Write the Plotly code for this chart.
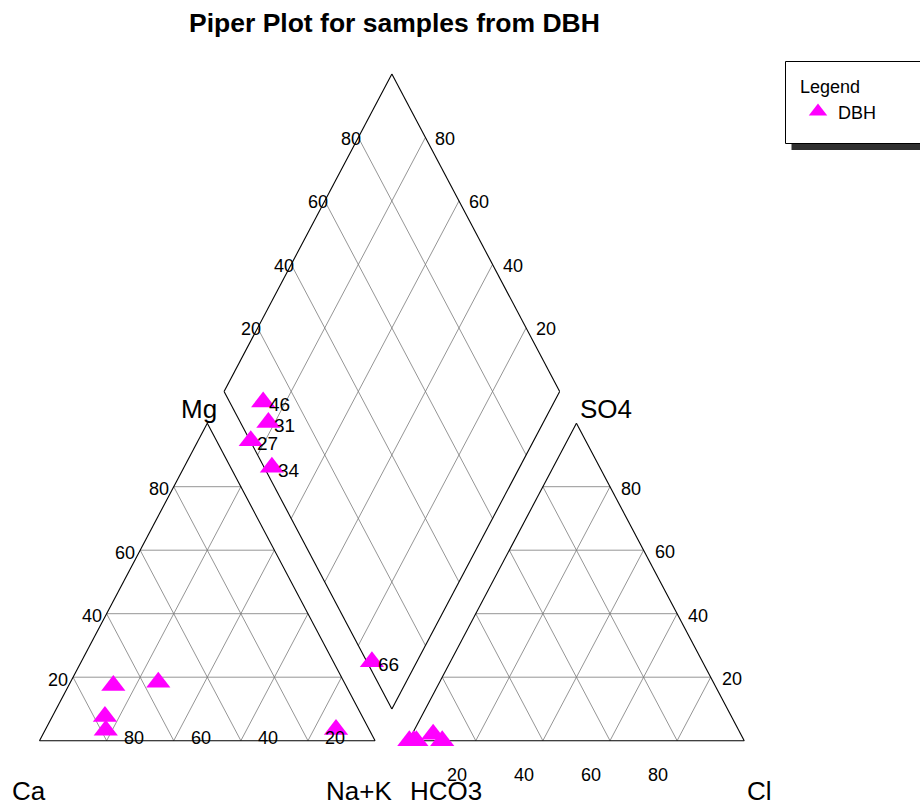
import plotly.graph_objects as go

# ---------------- data (percent of meq) ----------------
samples = ["46", "31", "27", "34", "66"]
ca = [69.3, 78.6, 76.7, 55.4, 9.9]
mg = [17.4, 3.3, 7.6, 18.4, 3.5]
nak = [13.3, 18.1, 15.7, 26.2, 86.6]
hco3 = [90.0, 91.7, 99.8, 97.7, 98.5]
so4 = [0.0, 2.0, 0.0, 0.0, 0.0]
cl = [10.0, 6.3, 0.2, 2.3, 1.5]
grid_ticks = [20, 40, 60, 80]
group_name = "DBH"
title_text = "Piper Plot for samples from DBH"

FONT = "Liberation Sans, Arial, Helvetica, sans-serif"
W, H = 920, 809
GAP = 0.1          # gap between triangles (fraction of side)
XR = [-0.1177, 2.6237]
YR = [-0.2151, 2.3329]


# ---------------- geometry helpers ----------------
def cation_xy(c, m, n):
    t = c + m + n
    m, n = m / t, n / t
    return n + 0.5 * m, m


def anion_xy(b, s, c):
    t = b + s + c
    s, c = s / t, c / t
    return 1 + GAP + c + 0.5 * s, s


def diamond_xy(n, b):
    # n = Na+K fraction, b = HCO3 fraction
    return 1 + GAP / 2 + 0.5 * (n - b), GAP + 2 - n - b


def seg_trace(segs, color, width):
    xs, ys = [], []
    for (x0, y0), (x1, y1) in segs:
        xs += [x0, x1, None]
        ys += [y0, y1, None]
    return go.Scatter(x=xs, y=ys, mode="lines", hoverinfo="skip", showlegend=False,
                      line=dict(color=color, width=width))


# grid lines
grid = []
for k in [t / 100 for t in grid_ticks]:
    for off in (0.0, 1 + GAP):
        grid.append(((off + 0.5 * k, k), (off + 1 - 0.5 * k, k)))
        grid.append(((off + k, 0), (off + k + 0.5 * (1 - k), 1 - k)))
        grid.append(((off + 1 - k, 0), (off + 0.5 * (1 - k), 1 - k)))
    grid.append((diamond_xy(k, 1), diamond_xy(k, 0)))
    grid.append((diamond_xy(0, k), diamond_xy(1, k)))

outline = []
for off in (0.0, 1 + GAP):
    outline += [((off, 0), (off + 1, 0)), ((off + 1, 0), (off + 0.5, 1)), ((off + 0.5, 1), (off, 0))]
corners = [diamond_xy(1, 1), diamond_xy(0, 1), diamond_xy(0, 0), diamond_xy(1, 0)]
for i in range(4):
    outline.append((corners[i], corners[(i + 1) % 4]))

fig = go.Figure()
fig.add_trace(seg_trace(grid, "#7a7a7a", 0.8))
fig.add_trace(seg_trace(outline, "black", 1.1))

# ---------------- data points ----------------
cat = [cation_xy(c, m, n) for c, m, n in zip(ca, mg, nak)]
an = [anion_xy(b, s, c) for b, s, c in zip(hco3, so4, cl)]
dia = []
for c, m, n, b, s, cc in zip(ca, mg, nak, hco3, so4, cl):
    dia.append(diamond_xy(n / (c + m + n), b / (b + s + cc)))

marker = dict(symbol="triangle-up", size=21, color="#ff00ff", line=dict(width=0))
for i, pts in enumerate([cat, an, dia]):
    fig.add_trace(go.Scatter(x=[p[0] for p in pts], y=[p[1] for p in pts], mode="markers",
                             marker=marker, name=group_name, legendgroup=group_name,
                             showlegend=(i == 0), hoverinfo="skip"))

ann = []


def add_text(x, y, text, size=18, xanchor="center", xshift=0, yshift=0, ref="x", bold=False):
    ann.append(dict(x=x, y=y, xref=ref if ref == "x" else "paper", yref="y" if ref == "x" else "paper",
                    text=("<b>%s</b>" % text) if bold else text, showarrow=False,
                    xanchor=xanchor, yanchor="middle", xshift=xshift, yshift=yshift,
                    font=dict(family=FONT, size=size, color="black")))


for (x, y), lab in zip(dia, samples):
    add_text(x, y, lab, size=19, xanchor="left", xshift=4, yshift=-3)

for t in grid_ticks:
    k = t / 100
    # cation: Mg on left edge, Ca along base
    add_text(0.5 * k, k, str(t), xanchor="right", xshift=-3, yshift=-2.5)
    add_text(1 - k, 0, str(t), xanchor="center", xshift=27, yshift=3)
    # anion: SO4 on right edge, Cl along base
    add_text(1 + GAP + 1 - 0.5 * k, k, str(t), xanchor="left", xshift=9, yshift=-2)
    add_text(1 + GAP + k, 0, str(t), xanchor="center", xshift=-19, yshift=-34)
    # diamond
    x, y = diamond_xy(0, 1 - k)
    add_text(x, y, str(t), xanchor="center", xshift=-7, yshift=-1.5)
    x, y = diamond_xy(1 - k, 0)
    add_text(x, y, str(t), xanchor="left", xshift=8, yshift=-1.5)


def px(xp, yp):
    return xp / W, 1 - yp / H


for lab, (xp, yp), anc in [("Ca", (29, 791), "center"), ("Na+K", (359, 791), "center"),
                           ("HCO3", (446, 791), "center"), ("Cl", (745, 791), "left"),
                           ("Mg", (218.5, 409), "right"), ("SO4", (578, 409), "left")]:
    x, y = px(xp, yp)
    add_text(x, y, lab, size=26, xanchor=anc, ref="paper")

x, y = px(394, 23)
add_text(x, y, title_text, size=26.5, ref="paper", bold=True)

# legend frame with drop shadow
shapes = [
    dict(type="rect", xref="paper", yref="paper", x0=791.5 / W, x1=930 / W, y0=1 - 150 / H, y1=1 - 140 / H,
         fillcolor="#303030", line=dict(width=0), layer="above"),
    dict(type="rect", xref="paper", yref="paper", x0=785.5 / W, x1=930 / W, y0=1 - 143.5 / H, y1=1 - 61.5 / H,
         fillcolor="white", line=dict(color="black", width=1), layer="above"),
]

fig.update_layout(
    width=W, height=H, margin=dict(l=0, r=0, t=0, b=0, pad=0),
    paper_bgcolor="white", plot_bgcolor="white",
    xaxis=dict(range=XR, visible=False, fixedrange=True),
    yaxis=dict(range=YR, visible=False, fixedrange=True),
    annotations=ann, shapes=shapes,
    showlegend=True,
    legend=dict(x=798 / W, y=1 - 70 / H, xanchor="left", yanchor="top",
                bgcolor="rgba(0,0,0,0)", borderwidth=0,
                title=dict(text="Legend", font=dict(family=FONT, size=18, color="black")),
                font=dict(family=FONT, size=18, color="black")),
    font=dict(family=FONT),
)

fig.write_html("out.html")
